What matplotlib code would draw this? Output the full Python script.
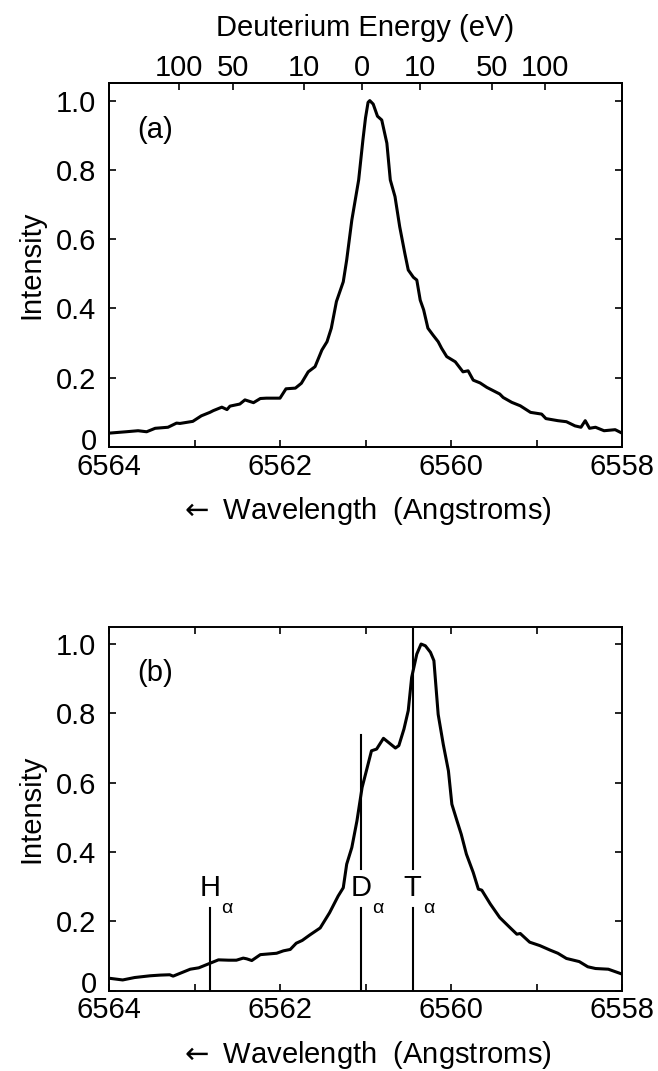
import numpy as np
import matplotlib
matplotlib.use("Agg")
import matplotlib.pyplot as plt
from matplotlib.transforms import ScaledTranslation

plt.rcParams['font.family'] = ['Liberation Sans', 'DejaVu Sans']
plt.rcParams['mathtext.fontset'] = 'dejavusans'

# ---------------- data ----------------
# panel (a): single D-alpha profile
wl_a = [6564.00, 6563.80, 6563.66, 6563.56, 6563.46, 6563.31, 6563.21, 6563.17, 6563.02,
        6562.92, 6562.82, 6562.78, 6562.68, 6562.62, 6562.585, 6562.47, 6562.41, 6562.31,
        6562.23, 6562.16, 6562.00, 6561.93, 6561.82, 6561.75, 6561.67, 6561.59, 6561.51,
        6561.45, 6561.40, 6561.34, 6561.26, 6561.22, 6561.16, 6561.08, 6561.03, 6561.00,
        6560.97, 6560.95, 6560.91, 6560.86, 6560.81, 6560.75, 6560.71, 6560.655, 6560.60,
        6560.54, 6560.50, 6560.44, 6560.40, 6560.36, 6560.32, 6560.27, 6560.21, 6560.15,
        6560.11, 6560.05, 6559.95, 6559.86, 6559.80, 6559.74, 6559.66, 6559.58, 6559.43,
        6559.39, 6559.29, 6559.19, 6559.07, 6558.94, 6558.89, 6558.75, 6558.65, 6558.55,
        6558.48, 6558.43, 6558.38, 6558.31, 6558.21, 6558.08, 6558.00]
int_a = [0.040, 0.044, 0.047, 0.044, 0.054, 0.057, 0.069, 0.068, 0.074,
         0.090, 0.100, 0.105, 0.115, 0.108, 0.118, 0.124, 0.136, 0.128,
         0.140, 0.141, 0.141, 0.168, 0.170, 0.184, 0.217, 0.232, 0.280,
         0.304, 0.343, 0.420, 0.477, 0.540, 0.655, 0.771, 0.887, 0.950,
         0.995, 1.000, 0.990, 0.955, 0.944, 0.877, 0.771, 0.723, 0.636,
         0.559, 0.511, 0.490, 0.482, 0.424, 0.396, 0.343, 0.323, 0.304,
         0.285, 0.261, 0.246, 0.217, 0.220, 0.193, 0.185, 0.172, 0.153,
         0.143, 0.129, 0.119, 0.100, 0.095, 0.082, 0.076, 0.073, 0.061,
         0.057, 0.076, 0.054, 0.057, 0.047, 0.050, 0.040]

# panel (b): D + T mixture profile
wl_b = [6564.00, 6563.84, 6563.70, 6563.52, 6563.40, 6563.29, 6563.25, 6563.10, 6563.05,
        6562.95, 6562.90, 6562.82, 6562.72, 6562.60, 6562.51, 6562.43, 6562.39, 6562.33,
        6562.23, 6562.04, 6561.96, 6561.88, 6561.81, 6561.74, 6561.65, 6561.53, 6561.42,
        6561.32, 6561.26, 6561.22, 6561.16, 6561.10, 6561.04, 6560.99, 6560.93, 6560.87,
        6560.79, 6560.73, 6560.65, 6560.61, 6560.55, 6560.50, 6560.46, 6560.40, 6560.35,
        6560.30, 6560.24, 6560.20, 6560.15, 6560.09, 6560.03, 6559.99, 6559.93, 6559.88,
        6559.82, 6559.74, 6559.68, 6559.64, 6559.54, 6559.43, 6559.31, 6559.23, 6559.19,
        6559.08, 6558.96, 6558.84, 6558.75, 6558.65, 6558.50, 6558.40, 6558.31, 6558.16,
        6558.00]
int_b = [0.036, 0.031, 0.038, 0.043, 0.045, 0.046, 0.042, 0.057, 0.062,
         0.066, 0.071, 0.079, 0.089, 0.088, 0.088, 0.094, 0.092, 0.087,
         0.104, 0.108, 0.115, 0.119, 0.137, 0.145, 0.161, 0.181, 0.225,
         0.273, 0.297, 0.365, 0.413, 0.490, 0.586, 0.634, 0.692, 0.697,
         0.728, 0.716, 0.700, 0.707, 0.755, 0.808, 0.904, 0.971, 1.000,
         0.995, 0.976, 0.952, 0.797, 0.710, 0.634, 0.538, 0.490, 0.451,
         0.394, 0.341, 0.293, 0.290, 0.250, 0.211, 0.182, 0.163, 0.165,
         0.140, 0.130, 0.117, 0.108, 0.093, 0.084, 0.069, 0.064, 0.062,
         0.048]

# axis ticks
wl_major = [6564, 6562, 6560, 6558]
wl_minor = [6563, 6561, 6559]
y_ticks = [0, 0.2, 0.4, 0.6, 0.8, 1.0]
y_labels = ["0", "0.2", "0.4", "0.6", "0.8", "1.0"]

# deuterium energy scale (top of panel a)
energy_vals = [100, 50, 10, 0, 10, 50, 100]
energy_side = [1, 1, 1, 0, -1, -1, -1]       # +1 = red side (longer wavelength)
lambda0 = 6561.04                             # D-alpha centre
mD_c2_eV = 1875.6e6                           # deuteron rest energy

# line markers in panel (b)
line_names = ["H", "D", "T"]
line_wl = [6562.82, 6561.05, 6560.45]
line_top = [0.239, 0.738, 1.042]

# ---------------- figure ----------------
fig = plt.figure(figsize=(6.58, 10.71), dpi=100)
W, H = 658.0, 1071.0
left, right = 109.0, 622.0
axA = fig.add_axes([left / W, 1 - 447.0 / H, (right - left) / W, (447.0 - 83.3) / H])
axB = fig.add_axes([left / W, 1 - 990.7 / H, (right - left) / W, (990.7 - 626.7) / H])

FS = 21
lw_axis = 1.4

def style(ax, top_ticks=True):
    ax.set_xlim(6564, 6558)
    ax.set_ylim(0, 1.05)
    ax.set_xticks(wl_major)
    ax.set_xticklabels([str(v) for v in wl_major])
    ax.set_xticks(wl_minor, minor=True)
    ax.set_yticks(y_ticks)
    ax.set_yticklabels(y_labels)
    ax.tick_params(axis='both', which='both', direction='in', length=5, width=1.2,
                   labelsize=FS, right=True, top=top_ticks)
    ax.tick_params(axis='x', which='both', pad=4)
    ax.tick_params(axis='y', which='both', pad=9)
    for s in ax.spines.values():
        s.set_linewidth(lw_axis)
    ax.set_ylabel("Intensity", fontsize=FS)
    ax.yaxis.set_label_coords(-0.125, 0.5)
    ax.set_xlabel(r"$\leftarrow$ Wavelength  (Angstroms)", fontsize=FS)
    ax.xaxis.set_label_coords(0.5, -0.132)
    # nudge the "0" label upward a little
    lab0 = ax.get_yticklabels()[0]
    lab0.set_transform(lab0.get_transform() + ScaledTranslation(0, 6 / 72.0, fig.dpi_scale_trans))

style(axA, top_ticks=False)
style(axB, top_ticks=True)

axA.plot(wl_a, int_a, color='black', lw=2.2, solid_joinstyle='round')
axB.plot(wl_b, int_b, color='black', lw=2.2, solid_joinstyle='round')

axA.text(0.055, 0.872, "(a)", transform=axA.transAxes, fontsize=FS, ha='left', va='center')
axB.text(0.055, 0.872, "(b)", transform=axB.transAxes, fontsize=FS, ha='left', va='center')

# energy axis on top of panel (a)
en = np.array(energy_vals, dtype=float)
pos = lambda0 + np.array(energy_side) * lambda0 * np.sqrt(2 * en / mD_c2_eV)
axT = axA.twiny()
axT.set_xlim(axA.get_xlim())
axT.set_xticks(pos)
axT.set_xticklabels([str(v) for v in energy_vals])
axT.tick_params(axis='x', direction='in', length=5, width=1.2, labelsize=FS, pad=1)
axT.set_xlabel("Deuterium Energy (eV)", fontsize=FS, labelpad=13)
for s in axT.spines.values():
    s.set_linewidth(lw_axis)

# species lines in panel (b)
gap_lo, gap_hi = 0.239, 0.352
for name, wl, top in zip(line_names, line_wl, line_top):
    if top <= gap_lo + 1e-6:
        axB.plot([wl, wl], [0, top], color='black', lw=1.5)
    else:
        axB.plot([wl, wl], [0, gap_lo], color='black', lw=1.5)
        axB.plot([wl, wl], [gap_hi, top], color='black', lw=1.5)
    axB.text(wl, 0.296, name, fontsize=FS, ha='center', va='center')
    axB.annotate("\u03b1", xy=(wl, 0.238), xytext=(12, 0), textcoords='offset points',
                 fontsize=14, ha='center', va='center')

fig.savefig("out.png", dpi=100)
